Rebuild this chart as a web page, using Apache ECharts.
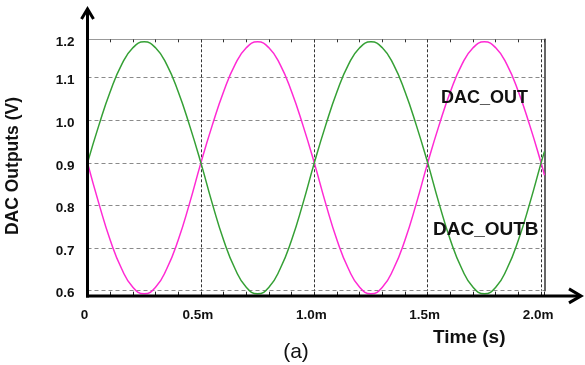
<!DOCTYPE html>
<html>
<head>
<meta charset="utf-8">
<style>
html,body{margin:0;padding:0;background:#fff;}
#chart{width:585px;height:365px;}
</style>
<script src="https://cdn.jsdelivr.net/npm/echarts@6/dist/echarts.min.js"></script>
</head>
<body>
<div id="chart"></div>
<script>
// Time samples in ms
const timeMs = [0,0.05,0.10,0.15,0.20,0.25,0.30,0.35,0.40,0.45,0.50,0.55,0.60,0.65,0.70,0.75,0.80,0.85,0.90,0.95,1.00,
  1.05,1.10,1.15,1.20,1.25,1.30,1.35,1.40,1.45,1.50,1.55,1.60,1.65,1.70,1.75,1.80,1.85,1.90,1.95,2.00,2.015];
// DAC_OUTB (green)
const dacOutB = [0.900,0.988,1.067,1.130,1.170,1.184,1.170,1.130,1.067,0.988,0.900,0.805,0.719,0.652,0.608,0.593,0.608,0.652,0.719,0.805,0.900,
  0.988,1.067,1.130,1.170,1.184,1.170,1.130,1.067,0.988,0.900,0.805,0.719,0.652,0.608,0.593,0.608,0.652,0.719,0.805,0.900,0.927];
// DAC_OUT (magenta)
const dacOut = [0.900,0.805,0.719,0.652,0.608,0.593,0.608,0.652,0.719,0.805,0.900,0.988,1.067,1.130,1.170,1.184,1.170,1.130,1.067,0.988,0.900,
  0.805,0.719,0.652,0.608,0.593,0.608,0.652,0.719,0.805,0.900,0.988,1.067,1.130,1.170,1.184,1.170,1.130,1.067,0.988,0.900,0.871];
const xTickLabels = {0:'0',0.5:'0.5m',1:'1.0m',1.5:'1.5m',2:'2.0m'};
const yTickLabels = [0.6,0.7,0.8,0.9,1.0,1.1,1.2];

const FONT = "'Liberation Sans', Arial, sans-serif";
const chart = echarts.init(document.getElementById('chart'), null, {renderer:'canvas'});

const option = {
  animation:false,
  backgroundColor:'#fff',
  grid:{left:87.5,right:40.5,top:39.3,bottom:74.3,containLabel:false},
  xAxis:[{
    type:'value',min:0,max:2.015,interval:0.5,position:'bottom',offset:5,
    axisLine:{show:false,onZero:false},
    axisTick:{show:true,inside:true,length:4,lineStyle:{color:'#222'}},
    minorTick:{show:true,splitNumber:5,length:4,lineStyle:{color:'#222'}},
    axisLabel:{margin:13,fontFamily:FONT,fontWeight:'bold',fontSize:13.5,color:'#111',padding:[0,6,0,0],
      formatter:function(v){const k=Math.round(v*10)/10; return (Math.abs(v-k)<1e-6 && xTickLabels[k]!==undefined)?xTickLabels[k]:'';}},
    splitLine:{show:true,showMinLine:false,showMaxLine:false,lineStyle:{color:'#333',type:[3,2],width:1}},
    minorSplitLine:{show:false}
  },{
    type:'value',min:0,max:2.015,interval:0.5,position:'top',
    axisLine:{show:true,onZero:false,lineStyle:{color:'#999',width:1}},
    axisTick:{show:true,inside:true,length:3,lineStyle:{color:'#333'}},
    minorTick:{show:true,splitNumber:5,length:3,lineStyle:{color:'#333'}},
    axisLabel:{show:false},splitLine:{show:false}
  }],
  yAxis:[{
    type:'value',min:0.6,max:1.19,interval:0.1,position:'left',
    axisLine:{show:false},axisTick:{show:false},
    axisLabel:{margin:13,fontFamily:FONT,fontWeight:'bold',fontSize:13.5,color:'#111',verticalAlign:'top',lineHeight:6,
      formatter:function(v){const r=Math.round(v*10)/10; return yTickLabels.indexOf(r)>=0?r.toFixed(1):'';}},
    splitLine:{show:true,showMaxLine:false,lineStyle:{color:'#8a8a8a',type:[4,3],width:1}}
  },{
    type:'value',min:0.6,max:1.19,position:'right',
    axisLine:{show:true,onZero:false,lineStyle:{color:'#333',width:1.5}},
    axisTick:{show:false},axisLabel:{show:false},splitLine:{show:false}
  }],
  series:[{
    name:'DAC_OUT',type:'line',xAxisIndex:0,yAxisIndex:0,
    data:timeMs.map((t,i)=>[t,dacOut[i]]),
    smooth:true,showSymbol:false,clip:false,
    lineStyle:{color:'#ff2ad4',width:1.5},itemStyle:{color:'#ff2ad4'}
  },{
    name:'DAC_OUTB',type:'line',xAxisIndex:0,yAxisIndex:0,
    data:timeMs.map((t,i)=>[t,dacOutB[i]]),
    smooth:true,showSymbol:false,clip:false,
    lineStyle:{color:'#35a035',width:1.5},itemStyle:{color:'#35a035'}
  }]
};
chart.setOption(option);

// Axes with arrows (extended beyond the plot area)
const o = chart.convertToPixel({xAxisIndex:0,yAxisIndex:0},[0,0.6]);
const ox = o[0], oy = o[1] + 5.2;
chart.setOption({
  graphic:[
    {type:'line',shape:{x1:ox,y1:oy+1.5,x2:ox,y2:10},style:{stroke:'#000',lineWidth:3},z:50},
    {type:'polyline',shape:{points:[[ox-6,19],[ox,9],[ox+6,19]]},style:{stroke:'#000',lineWidth:3,fill:null},z:50},
    {type:'line',shape:{x1:ox-1.5,y1:oy,x2:580,y2:oy},style:{stroke:'#000',lineWidth:3},z:50},
    {type:'polyline',shape:{points:[[569,oy-7],[581,oy],[569,oy+7]]},style:{stroke:'#000',lineWidth:3,fill:null},z:50},
    {type:'text',x:441,y:98,style:{text:'DAC_OUT',font:"bold 18px "+FONT,fill:'#111',textAlign:'left',textVerticalAlign:'middle'},z:60},
    {type:'text',x:433,y:230,style:{text:'DAC_OUTB',font:"bold 19px "+FONT,fill:'#111',textAlign:'left',textVerticalAlign:'middle'},z:60},
    {type:'text',x:433,y:338,style:{text:'Time (s)',font:"bold 19px "+FONT,fill:'#111',textAlign:'left',textVerticalAlign:'middle'},z:60},
    {type:'text',x:296,y:352,style:{text:'(a)',font:"21px "+FONT,fill:'#111',textAlign:'center',textVerticalAlign:'middle'},z:60},
    {type:'text',x:13,y:166,rotation:Math.PI/2,style:{text:'DAC Outputs (V)',font:"bold 17.5px "+FONT,fill:'#111',textAlign:'center',textVerticalAlign:'middle'},z:60}
  ]
});
</script>
</body>
</html>
